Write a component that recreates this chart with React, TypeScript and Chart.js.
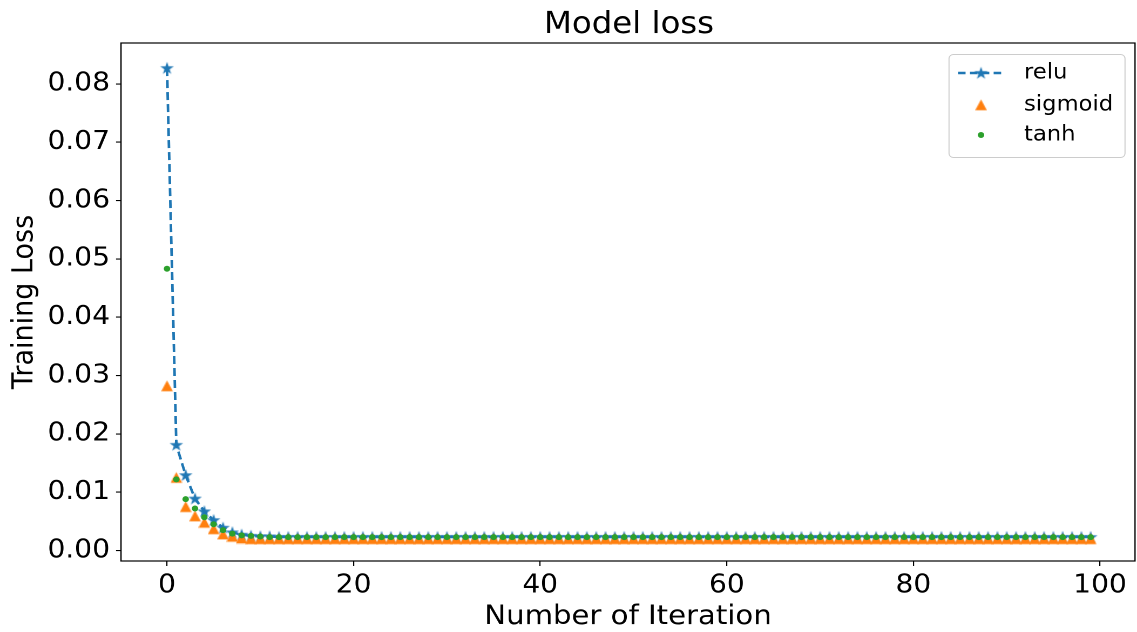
import React, { useEffect, useRef } from 'react';
import { Chart, registerables } from 'chart.js';

Chart.register(...registerables);

const FONT = '"DejaVu Sans", sans-serif';

const iterations = [
  0, 1, 2, 3, 4, 5, 6, 7, 8, 9, 10, 11, 12, 13, 14, 15, 16, 17, 18, 19,
  20, 21, 22, 23, 24, 25, 26, 27, 28, 29, 30, 31, 32, 33, 34, 35, 36, 37, 38, 39,
  40, 41, 42, 43, 44, 45, 46, 47, 48, 49, 50, 51, 52, 53, 54, 55, 56, 57, 58, 59,
  60, 61, 62, 63, 64, 65, 66, 67, 68, 69, 70, 71, 72, 73, 74, 75, 76, 77, 78, 79,
  80, 81, 82, 83, 84, 85, 86, 87, 88, 89, 90, 91, 92, 93, 94, 95, 96, 97, 98, 99,
];

const reluLoss = [
  0.0827, 0.0181, 0.0129, 0.0089, 0.0067, 0.0052, 0.0039, 0.0031, 0.0027, 0.0025,
  0.0024, 0.0024, 0.0023, 0.0023, 0.0023, 0.0023, 0.0023, 0.0023, 0.0023, 0.0023,
  0.0023, 0.0023, 0.0023, 0.0023, 0.0023, 0.0023, 0.0023, 0.0023, 0.0023, 0.0023,
  0.0023, 0.0023, 0.0023, 0.0023, 0.0023, 0.0023, 0.0023, 0.0023, 0.0023, 0.0023,
  0.0023, 0.0023, 0.0023, 0.0023, 0.0023, 0.0023, 0.0023, 0.0023, 0.0023, 0.0023,
  0.0023, 0.0023, 0.0023, 0.0023, 0.0023, 0.0023, 0.0023, 0.0023, 0.0023, 0.0023,
  0.0023, 0.0023, 0.0023, 0.0023, 0.0023, 0.0023, 0.0023, 0.0023, 0.0023, 0.0023,
  0.0023, 0.0023, 0.0023, 0.0023, 0.0023, 0.0023, 0.0023, 0.0023, 0.0023, 0.0023,
  0.0023, 0.0023, 0.0023, 0.0023, 0.0023, 0.0023, 0.0023, 0.0023, 0.0023, 0.0023,
  0.0023, 0.0023, 0.0023, 0.0023, 0.0023, 0.0023, 0.0023, 0.0023, 0.0023, 0.0023,
];

const sigmoidLoss = [
  0.0282, 0.0125, 0.0075, 0.0059, 0.0048, 0.0037, 0.0028, 0.0024, 0.0021, 0.0020,
  0.0020, 0.0020, 0.0020, 0.0020, 0.0020, 0.0020, 0.0020, 0.0020, 0.0020, 0.0020,
  0.0020, 0.0020, 0.0020, 0.0020, 0.0020, 0.0020, 0.0020, 0.0020, 0.0020, 0.0020,
  0.0020, 0.0020, 0.0020, 0.0020, 0.0020, 0.0020, 0.0020, 0.0020, 0.0020, 0.0020,
  0.0020, 0.0020, 0.0020, 0.0020, 0.0020, 0.0020, 0.0020, 0.0020, 0.0020, 0.0020,
  0.0020, 0.0020, 0.0020, 0.0020, 0.0020, 0.0020, 0.0020, 0.0020, 0.0020, 0.0020,
  0.0020, 0.0020, 0.0020, 0.0020, 0.0020, 0.0020, 0.0020, 0.0020, 0.0020, 0.0020,
  0.0020, 0.0020, 0.0020, 0.0020, 0.0020, 0.0020, 0.0020, 0.0020, 0.0020, 0.0020,
  0.0020, 0.0020, 0.0020, 0.0020, 0.0020, 0.0020, 0.0020, 0.0020, 0.0020, 0.0020,
  0.0020, 0.0020, 0.0020, 0.0020, 0.0020, 0.0020, 0.0020, 0.0020, 0.0020, 0.0020,
];

const tanhLoss = [
  0.0483, 0.0122, 0.0088, 0.0072, 0.0057, 0.0045, 0.0035, 0.0029, 0.0026, 0.0025,
  0.0024, 0.0023, 0.0023, 0.0023, 0.0023, 0.0023, 0.0023, 0.0023, 0.0023, 0.0023,
  0.0023, 0.0023, 0.0023, 0.0023, 0.0023, 0.0023, 0.0023, 0.0023, 0.0023, 0.0023,
  0.0023, 0.0023, 0.0023, 0.0023, 0.0023, 0.0023, 0.0023, 0.0023, 0.0023, 0.0023,
  0.0023, 0.0023, 0.0023, 0.0023, 0.0023, 0.0023, 0.0023, 0.0023, 0.0023, 0.0023,
  0.0023, 0.0023, 0.0023, 0.0023, 0.0023, 0.0023, 0.0023, 0.0023, 0.0023, 0.0023,
  0.0023, 0.0023, 0.0023, 0.0023, 0.0023, 0.0023, 0.0023, 0.0023, 0.0023, 0.0023,
  0.0023, 0.0023, 0.0023, 0.0023, 0.0023, 0.0023, 0.0023, 0.0023, 0.0023, 0.0023,
  0.0023, 0.0023, 0.0023, 0.0023, 0.0023, 0.0023, 0.0023, 0.0023, 0.0023, 0.0023,
  0.0023, 0.0023, 0.0023, 0.0023, 0.0023, 0.0023, 0.0023, 0.0023, 0.0023, 0.0023,
];

const xTicks = [0, 20, 40, 60, 80, 100];
const yTicks = [0, 0.01, 0.02, 0.03, 0.04, 0.05, 0.06, 0.07, 0.08];

const BLUE = '#1f77b4';
const ORANGE = '#ff7f0e';
const GREEN = '#2ca02c';

// The reference figure is slightly stretched horizontally; the chart is laid
// out on a narrower logical canvas and shown at full width.
const OUT_W = 1137;
const OUT_H = 632;
const LW = 1053;
const SX = OUT_W / LW;
const px = (v: number) => v / SX;

function makeStar(color: string): HTMLCanvasElement {
  const c = document.createElement('canvas');
  c.width = 14;
  c.height = 14;
  const ctx = c.getContext('2d')!;
  const cx = 7, cy = 7.4, R = 6.6, r = R * 0.382;
  ctx.beginPath();
  for (let i = 0; i < 10; i++) {
    const a = -Math.PI / 2 + (i * Math.PI) / 5;
    const rad = i % 2 === 0 ? R : r;
    ctx.lineTo(cx + rad * Math.cos(a), cy + rad * Math.sin(a));
  }
  ctx.closePath();
  ctx.fillStyle = color;
  ctx.fill();
  return c;
}

function makeTriangle(color: string): HTMLCanvasElement {
  const c = document.createElement('canvas');
  c.width = 11;
  c.height = 12;
  const ctx = c.getContext('2d')!;
  ctx.beginPath();
  ctx.moveTo(5.5, 0.6);
  ctx.lineTo(10.9, 11.2);
  ctx.lineTo(0.1, 11.2);
  ctx.closePath();
  ctx.fillStyle = color;
  ctx.fill();
  return c;
}

export default function App() {
  const ref = useRef<HTMLCanvasElement | null>(null);

  useEffect(() => {
    if (!ref.current) return;
    const star = makeStar(BLUE);
    const tri = makeTriangle(ORANGE);

    const decorPlugin = {
      id: 'decor',
      afterDraw(chart: any) {
        const ctx = chart.ctx as CanvasRenderingContext2D;
        const a = chart.chartArea;
        ctx.save();
        // frame
        ctx.strokeStyle = '#000';
        ctx.lineWidth = 1.2;
        ctx.strokeRect(a.left, a.top, a.right - a.left, a.bottom - a.top);
        // title
        ctx.fillStyle = '#000';
        ctx.font = `30px ${FONT}`;
        ctx.textAlign = 'center';
        ctx.textBaseline = 'alphabetic';
        ctx.fillText('Model loss', px(629), 33);
        // legend
        const bx = px(949);
        const by = a.top + 11;
        const bw = px(176);
        ctx.beginPath();
        ctx.roundRect(bx, by + 0.5, bw, 103, 4);
        ctx.fillStyle = 'rgba(255,255,255,0.8)';
        ctx.fill();
        ctx.strokeStyle = '#cccccc';
        ctx.lineWidth = 1;
        ctx.stroke();
        const mx = px(981);
        const tx = px(1024);
        const rows = [by + 19, by + 51, by + 81];
        const ds = chart.data.datasets;
        // relu
        ctx.beginPath();
        ctx.setLineDash([7, 4]);
        ctx.strokeStyle = BLUE;
        ctx.lineWidth = 2.4;
        ctx.moveTo(px(958), rows[0]);
        ctx.lineTo(px(1005), rows[0]);
        ctx.stroke();
        ctx.setLineDash([]);
        ctx.drawImage(star, mx - 7, rows[0] - 7);
        // sigmoid
        ctx.drawImage(tri, mx - 5.5, rows[1] - 6);
        // tanh
        ctx.beginPath();
        ctx.arc(mx, rows[2], 3, 0, Math.PI * 2);
        ctx.fillStyle = GREEN;
        ctx.fill();
        ctx.fillStyle = '#000';
        ctx.font = `21px ${FONT}`;
        ctx.textAlign = 'left';
        ctx.textBaseline = 'middle';
        ctx.fillText(ds[0].label, tx, rows[0]);
        ctx.fillText(ds[1].label, tx, rows[1]);
        ctx.fillText(ds[2].label, tx, rows[2]);
        ctx.restore();
      },
    };

    const chart = new Chart(ref.current, {
      type: 'line',
      data: {
        datasets: [
          {
            label: 'relu',
            data: iterations.map((x, i) => ({ x, y: reluLoss[i] })),
            borderColor: BLUE,
            backgroundColor: BLUE,
            borderWidth: 2.4,
            borderDash: [8, 4],
            pointStyle: star as any,
            pointRadius: 5,
            showLine: true,
            tension: 0,
            order: 2,
          },
          {
            label: 'sigmoid',
            data: iterations.map((x, i) => ({ x, y: sigmoidLoss[i] })),
            borderColor: ORANGE,
            backgroundColor: ORANGE,
            pointStyle: tri as any,
            pointRadius: 5,
            showLine: false,
            order: 1,
          },
          {
            label: 'tanh',
            data: iterations.map((x, i) => ({ x, y: tanhLoss[i] })),
            borderColor: GREEN,
            backgroundColor: GREEN,
            pointStyle: 'circle',
            pointRadius: 3,
            pointBorderWidth: 0,
            showLine: false,
            order: 0,
          },
        ],
      },
      options: {
        responsive: false,
        animation: false,
        devicePixelRatio: 2,
        events: [],
        layout: { autoPadding: false, padding: { top: 43, right: LW - px(1135), left: 0, bottom: 0 } },
        plugins: {
          legend: { display: false },
          title: { display: false },
          tooltip: { enabled: false },
        },
        scales: {
          x: {
            type: 'linear',
            min: -4.93,
            max: 103.75,
            afterBuildTicks: (s: any) => {
              s.ticks = xTicks.map((v) => ({ value: v }));
            },
            afterFit: (s: any) => {
              s.height = 71;
              s.paddingLeft = 0;
              s.paddingRight = 0;
            },
            grid: {
              display: true,
              drawOnChartArea: false,
              drawTicks: true,
              tickLength: 5,
              color: '#000',
              lineWidth: 1.1,
            },
            border: { display: false },
            ticks: {
              color: '#000',
              font: { family: FONT, size: 26 },
              padding: 4,
              maxRotation: 0,
              autoSkip: false,
              callback: (v: any) => String(v),
            },
            title: {
              display: true,
              text: 'Number of Iteration',
              color: '#000',
              font: { family: FONT, size: 27, lineHeight: 1 },
              padding: { top: 0, bottom: 1.5 },
            },
          },
          y: {
            type: 'linear',
            min: -0.0018,
            max: 0.087,
            afterBuildTicks: (s: any) => {
              s.ticks = yTicks.map((v) => ({ value: v }));
            },
            afterFit: (s: any) => {
              s.width = px(121);
              s.paddingTop = 0;
              s.paddingBottom = 0;
            },
            grid: {
              display: true,
              drawOnChartArea: false,
              drawTicks: true,
              tickLength: px(5),
              color: '#000',
              lineWidth: 1.1,
            },
            border: { display: false },
            ticks: {
              color: '#000',
              font: { family: FONT, size: 26 },
              padding: px(6),
              autoSkip: false,
              callback: (v: any) => Number(v).toFixed(2),
            },
            title: {
              display: true,
              text: 'Training Loss',
              color: '#000',
              font: { family: FONT, size: 27, lineHeight: 1 },
              padding: { top: px(25) - 13.5, bottom: 0 },
            },
          },
        },
      },
      plugins: [decorPlugin],
    } as any);

    return () => {
      chart.destroy();
    };
  }, []);

  return (
    <div style={{ position: 'absolute', left: 0, top: 0, width: OUT_W, height: OUT_H, background: '#fff' }}>
      <canvas
        ref={ref}
        width={LW}
        height={OUT_H}
        style={{ display: 'block', width: `${OUT_W}px`, height: `${OUT_H}px` }}
      />
    </div>
  );
}
